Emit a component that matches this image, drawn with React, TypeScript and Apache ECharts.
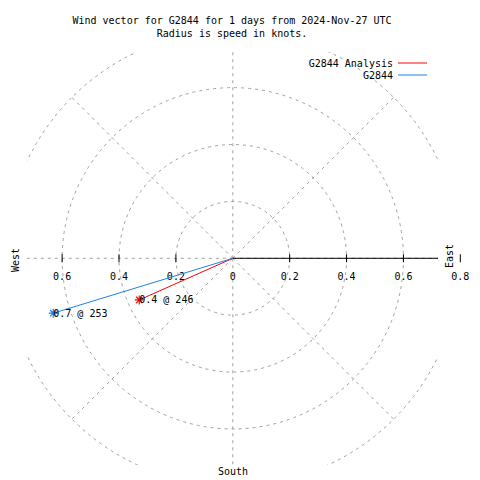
import React, { useEffect, useRef } from "react";
import * as echarts from "echarts";

const titleLines = [
  "Wind vector for G2844 for 1 days from 2024-Nov-27 UTC",
  "Radius is speed in knots.",
];
const seriesNames = ["G2844 Analysis", "G2844"];
const speeds = [0.36, 0.66];
const directions = [246, 253];
const seriesColors = ["#ff0000", "#1e82e6"];
const ringRadii = [0.2, 0.4, 0.6, 0.8];
const spokeAngles = [0, 45, 90, 135, 180, 225, 270, 315];
const tickValues = [-0.6, -0.4, -0.2, 0, 0.2, 0.4, 0.6, 0.8];
const compassLabels = ["West", "East", "South"];

const FONT_FAMILY = "'DejaVu Sans Mono', 'Liberation Mono', monospace";
const FONT = "10px " + FONT_FAMILY;
const GRID_COLOR = "#a0a0a0";

export default function App() {
  const ref = useRef<HTMLDivElement>(null);
  useEffect(() => {
    if (!ref.current) return;
    const chart = echarts.init(ref.current, null, { renderer: "svg" });

    const gridLeft = 27;
    const gridTop = 52;
    const gridW = 411;
    const gridH = 413;
    const xMin = -0.7235;
    const xMax = 0.7215;
    const scale = gridW / (xMax - xMin);
    const yMax = 0.7253;
    const yMin = yMax - gridH / scale;
    const cx = gridLeft + (0 - xMin) * scale;
    const cy = gridTop + yMax * scale;
    const rMax = ringRadii[ringRadii.length - 1];

    const star = "path://M0 4 L8 4 M4 0 L4 8 M1.2 1.2 L6.8 6.8 M1.2 6.8 L6.8 1.2";

    const dataSeries = seriesNames.map((name, i) => ({
      name,
      type: "line",
      coordinateSystem: "polar",
      polarIndex: 0,
      z: 5,
      color: seriesColors[i],
      lineStyle: { color: seriesColors[i], width: 1 },
      itemStyle: { color: seriesColors[i], borderColor: seriesColors[i], borderWidth: 1.2 },
      symbol: star,
      symbolSize: 9,
      showSymbol: true,
      data: [
        { value: [0, directions[i]], symbol: "none" },
        {
          value: [speeds[i], directions[i]],
          label: {
            show: true,
            position: "inside",
            align: "left",
            verticalAlign: "middle",
            color: "#000",
            fontFamily: FONT_FAMILY,
            fontSize: 10,
            formatter: () => speeds[i].toFixed(1) + " @ " + directions[i],
          },
        },
      ],
    }));

    const option: any = {
      animation: false,
      backgroundColor: "#fff",
      grid: { left: gridLeft, top: gridTop, width: gridW, height: gridH },
      xAxis: { type: "value", min: xMin, max: xMax, show: false },
      yAxis: { type: "value", min: yMin, max: yMax, show: false },
      polar: { center: [cx, cy], radius: rMax * scale },
      radiusAxis: { type: "value", min: 0, max: rMax, show: false },
      angleAxis: {
        type: "value",
        min: 0,
        max: 360,
        startAngle: 90,
        clockwise: true,
        show: false,
      },
      legend: {
        data: seriesNames,
        orient: "vertical",
        right: 53,
        top: 57,
        align: "right",
        icon: "rect",
        itemWidth: 29,
        itemHeight: 1,
        itemGap: 0,
        padding: 0,
        itemStyle: { borderWidth: 0 },
        textStyle: { fontFamily: FONT_FAMILY, fontSize: 10, color: "#000", lineHeight: 12 },
      },
      graphic: [
        ...titleLines.map((t, i) => ({
          type: "text",
          x: 232,
          y: 20 + i * 13,
          style: { text: t, font: FONT, fill: "#000", align: "center", verticalAlign: "middle" },
        })),
        {
          type: "text",
          x: 15,
          y: 260,
          rotation: Math.PI / 2,
          style: { text: compassLabels[0], font: FONT, fill: "#000", align: "center", verticalAlign: "middle" },
        },
        {
          type: "text",
          x: 449,
          y: 256,
          rotation: Math.PI / 2,
          style: { text: compassLabels[1], font: FONT, fill: "#000", align: "center", verticalAlign: "middle" },
        },
        {
          type: "text",
          x: 233,
          y: 471,
          style: { text: compassLabels[2], font: FONT, fill: "#000", align: "center", verticalAlign: "middle" },
        },
      ],
      series: [
        {
          type: "custom",
          name: "rings",
          coordinateSystem: "cartesian2d",
          clip: true,
          z: 1,
          silent: true,
          data: ringRadii.map((r) => [r, 0]),
          renderItem: (params: any, api: any) => {
            const c = api.coord([0, 0]);
            const r = api.size([api.value(0), 0])[0];
            return {
              type: "circle",
              shape: { cx: c[0], cy: c[1], r },
              style: { fill: "none", stroke: GRID_COLOR, lineWidth: 1, lineDash: [3, 4] },
            };
          },
        },
        {
          type: "custom",
          name: "spokes",
          coordinateSystem: "cartesian2d",
          clip: true,
          z: 1,
          silent: true,
          data: spokeAngles.map((a) => [a, 0]),
          renderItem: (params: any, api: any) => {
            const a = (api.value(0) * Math.PI) / 180;
            const c = api.coord([0, 0]);
            const e = api.coord([rMax * Math.sin(a), rMax * Math.cos(a)]);
            return {
              type: "line",
              shape: { x1: c[0], y1: c[1], x2: e[0], y2: e[1] },
              style: { stroke: GRID_COLOR, lineWidth: 1, lineDash: [3, 4] },
            };
          },
        },
        {
          type: "custom",
          name: "axis",
          coordinateSystem: "cartesian2d",
          clip: true,
          z: 2,
          silent: true,
          data: [[rMax, 0]],
          renderItem: (params: any, api: any) => {
            const c = api.coord([0, 0]);
            const e = api.coord([api.value(0), 0]);
            return {
              type: "line",
              shape: { x1: c[0], y1: c[1], x2: e[0], y2: e[1] },
              style: { stroke: "#000", lineWidth: 1 },
            };
          },
        },
        {
          type: "custom",
          name: "ticks",
          coordinateSystem: "cartesian2d",
          clip: false,
          z: 3,
          silent: true,
          data: tickValues.map((v) => [v, 0]),
          renderItem: (params: any, api: any) => {
            const v = api.value(0);
            const p = api.coord([v, 0]);
            const children: any[] = [];
            if (v !== 0) {
              children.push({
                type: "line",
                shape: { x1: p[0], y1: p[1] - 4, x2: p[0], y2: p[1] + 4 },
                style: { stroke: "#000", lineWidth: 1 },
              });
            }
            children.push({
              type: "text",
              x: p[0],
              y: p[1] + 18,
              style: {
                text: String(Math.round(Math.abs(v) * 10) / 10),
                font: FONT,
                fill: "#000",
                align: "center",
                verticalAlign: "middle",
              },
            });
            return { type: "group", children };
          },
        },
        ...dataSeries,
      ],
    };
    chart.setOption(option);
    return () => chart.dispose();
  }, []);
  return (
    <div
      ref={ref}
      style={{ position: "fixed", left: 0, top: 0, width: 480, height: 480, background: "#fff" }}
    />
  );
}
